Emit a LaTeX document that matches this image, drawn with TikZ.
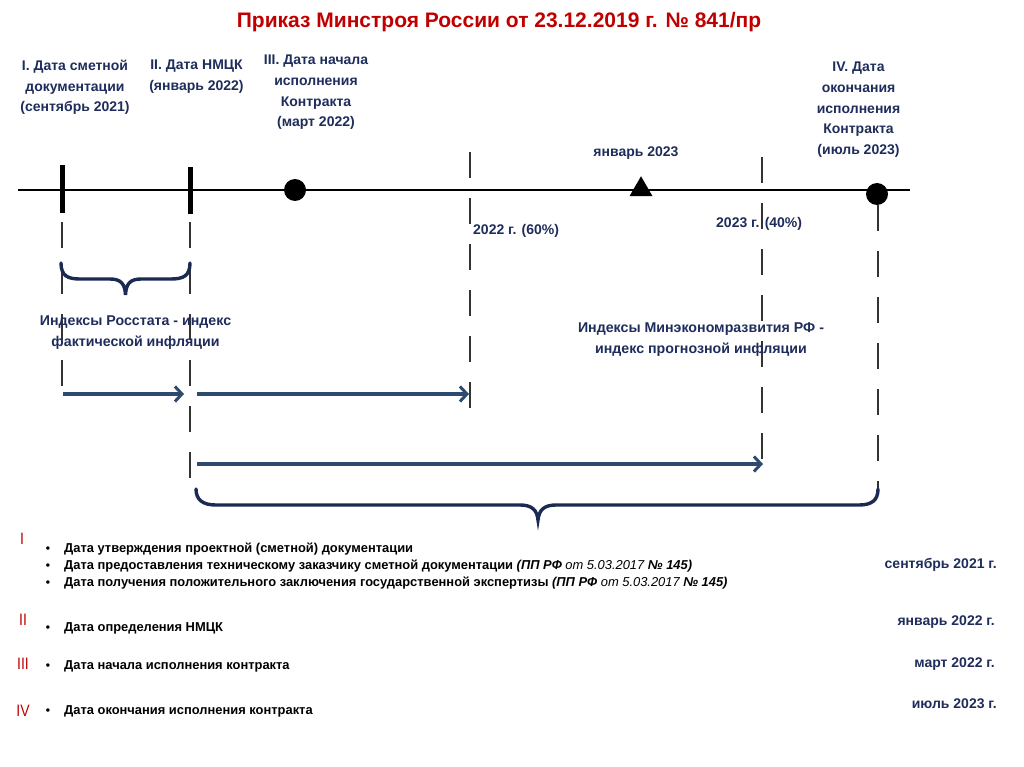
\documentclass[tikz,border=0pt]{standalone}
\usepackage{fontspec}
\setmainfont{Liberation Sans}
\newfontfamily\nar{Liberation Sans}
\newfontfamily\rom[FakeStretch=0.85]{Liberation Sans}
\usetikzlibrary{arrows.meta,shapes.geometric}
\definecolor{tred}{HTML}{C00000}
\definecolor{navy}{HTML}{1F2D5C}
\definecolor{arrc}{HTML}{2E4A6E}
\definecolor{brc}{HTML}{1B2A52}
\definecolor{dsh}{HTML}{333333}
\begin{document}
\begin{tikzpicture}[x=1pt,y=-1pt,
  title/.style={font=\nar\bfseries\fontsize{21}{24}\selectfont,text=tred,inner sep=0pt,anchor=base},
  lbl/.style={font=\nar\bfseries\fontsize{14}{20.6}\selectfont,text=navy,align=center,inner sep=0pt,anchor=north},
  idx/.style={font=\nar\bfseries\fontsize{14.2}{20.5}\selectfont,text=navy,align=center,inner sep=0pt},
  small/.style={font=\nar\bfseries\fontsize{14}{14}\selectfont,text=navy,inner sep=0pt},
  roman/.style={font=\rom\fontsize{16.5}{17}\selectfont,text=tred,inner sep=0pt},
  item/.style={font=\nar\bfseries\fontsize{12.9}{17}\selectfont,anchor=base west,inner sep=0pt},
  bul/.style={font=\nar\bfseries\fontsize{12}{17}\selectfont,anchor=base,inner sep=0pt},
  date/.style={font=\nar\bfseries\fontsize{14}{14}\selectfont,text=navy,anchor=base east,inner sep=0pt},
  dot/.style={circle,fill=black,minimum size=22pt,inner sep=0pt},
  bar/.style={rectangle,fill=black,minimum width=5pt,inner sep=0pt},
  tri/.style={regular polygon,regular polygon sides=3,fill=black,minimum size=26.5pt,inner sep=0pt},
  vdash/.style={draw=dsh,line width=1.1pt,dash pattern=on 26pt off 20pt},
  arr/.style={draw=arrc,line width=3.4pt,-{Straight Barb[length=7pt,width=15pt,line width=3pt]}},
  brace/.style={draw=brc,line width=3.4pt,line cap=round}
]
\fill[white] (0,0) rectangle (1024,767);
\useasboundingbox (0,0) rectangle (1024,767);

% title
\node[title] (ttl) at (499,28) {Приказ Минстроя России от 23.12.2019 г. № 841/пр};

% top labels
\node[lbl] (L1) at (75,60) {I. Дата сметной\\документации\\(сентябрь 2021)};
\node[lbl] (L2) at (196.5,60) {II. Дата НМЦК\\(январь 2022)};
\node[lbl] (L3) at (316,55) {III. Дата начала\\исполнения\\Контракта\\(март 2022)};
\node[lbl] (L4) at (858.5,62) {IV. Дата\\окончания\\исполнения\\Контракта\\(июль 2023)};

% timeline
\coordinate (tl0) at (18,190);
\coordinate (tl1) at (910,190);
\draw[line width=1.4pt] (tl0) -- (tl1);
\node[bar,minimum height=48pt] (b1) at (62,189) {};
\node[bar,minimum height=47pt] (b2) at (190,190.5) {};
\node[dot] (m3) at (295,190) {};
\node[tri] (m5) at (641,189.5) {};
\node[dot] (m4) at (877,194) {};

% dashed verticals
\coordinate (d1a) at (62,222);  \coordinate (d1b) at (62,388);
\coordinate (d2a) at (190,222); \coordinate (d2b) at (190,478);
\coordinate (d3a) at (470,152); \coordinate (d3b) at (470,408);
\coordinate (d4a) at (762,157); \coordinate (d4b) at (762,459);
\coordinate (d5a) at (878,205); \coordinate (d5b) at (878,490);
\draw[vdash] (d1a) -- (d1b);
\draw[vdash] (d2a) -- (d2b);
\draw[vdash] (d3a) -- (d3b);
\draw[vdash] (d4a) -- (d4b);
\draw[vdash] (d5a) -- (d5b);

% timeline texts
\node[small,anchor=base] (jan23) at (636,157) {январь 2023};
\node[small,anchor=base west] (p60) at (473,234) {2022 г. (60\%)};
\node[small,anchor=base west] (p40) at (716,228) {2023 г. (40\%)};

% small brace
\coordinate (sb0) at (61,263);
\coordinate (sb1) at (190,263);
\draw[brace] (sb0) .. controls (61,276) and (68,279) .. (80,279) -- (110,279)
  .. controls (121,279) and (125,284) .. (125.5,295)
  .. controls (126,284) and (130,279) .. (141,279) -- (171,279)
  .. controls (183,279) and (190,276) .. (sb1);

% index texts
\node[idx] (ros) at (135.5,332.5) {Индексы Росстата - индекс\\фактической инфляции};
\node[idx] (mer) at (701,339.5) {Индексы Минэкономразвития РФ -\\индекс прогнозной инфляции};

% arrows
\coordinate (a1s) at (63,394);  \coordinate (a1e) at (184,394);
\coordinate (a2s) at (197,394); \coordinate (a2e) at (469,394);
\coordinate (a3s) at (197,464); \coordinate (a3e) at (763,464);
\draw[arr] (a1s) -- (a1e);
\draw[arr] (a2s) -- (a2e);
\draw[arr] (a3s) -- (a3e);

% large brace
\coordinate (lb0) at (196,489);
\coordinate (lb1) at (878,489);
\draw[brace] (lb0) .. controls (196,500) and (203,505) .. (216,505) -- (520,505)
  .. controls (532,505) and (537,510) .. (538,520)
  .. controls (539,510) and (544,505) .. (556,505) -- (859,505)
  .. controls (872,505) and (878,500) .. (lb1);

% bottom list
\node[roman] (r1) at (22,539) {I};
\node[roman] (r2) at (23,620) {II};
\node[roman] (r3) at (23,664) {III};
\node[roman] (r4) at (23,711) {IV};

\node[bul] (u1) at (48,552.5) {•};
\node[bul] (u2) at (48,569.5) {•};
\node[bul] (u3) at (48,586.5) {•};
\node[bul] (u4) at (48,631.5) {•};
\node[bul] (u5) at (48,669.5) {•};
\node[bul] (u6) at (48,714.5) {•};

\node[item] (i1) at (64,552.5) {Дата утверждения проектной (сметной) документации};
\node[item] (i2) at (64,569.5) {Дата предоставления техническому заказчику сметной документации \textit{(ПП РФ {\mdseries от 5.03.2017} № 145)}};
\node[item] (i3) at (64,586.5) {Дата получения положительного заключения государственной экспертизы \textit{(ПП РФ {\mdseries от 5.03.2017} № 145)}};
\node[item] (i4) at (64,631.5) {Дата определения НМЦК};
\node[item] (i5) at (64,669.5) {Дата начала исполнения контракта};
\node[item] (i6) at (64,714.5) {Дата окончания исполнения контракта};

\node[date] (dt1) at (997,568) {сентябрь 2021 г.};
\node[date] (dt2) at (995,625) {январь 2022 г.};
\node[date] (dt3) at (995,667) {март 2022 г.};
\node[date] (dt4) at (997,708) {июль 2023 г.};
\end{tikzpicture}
\end{document}
